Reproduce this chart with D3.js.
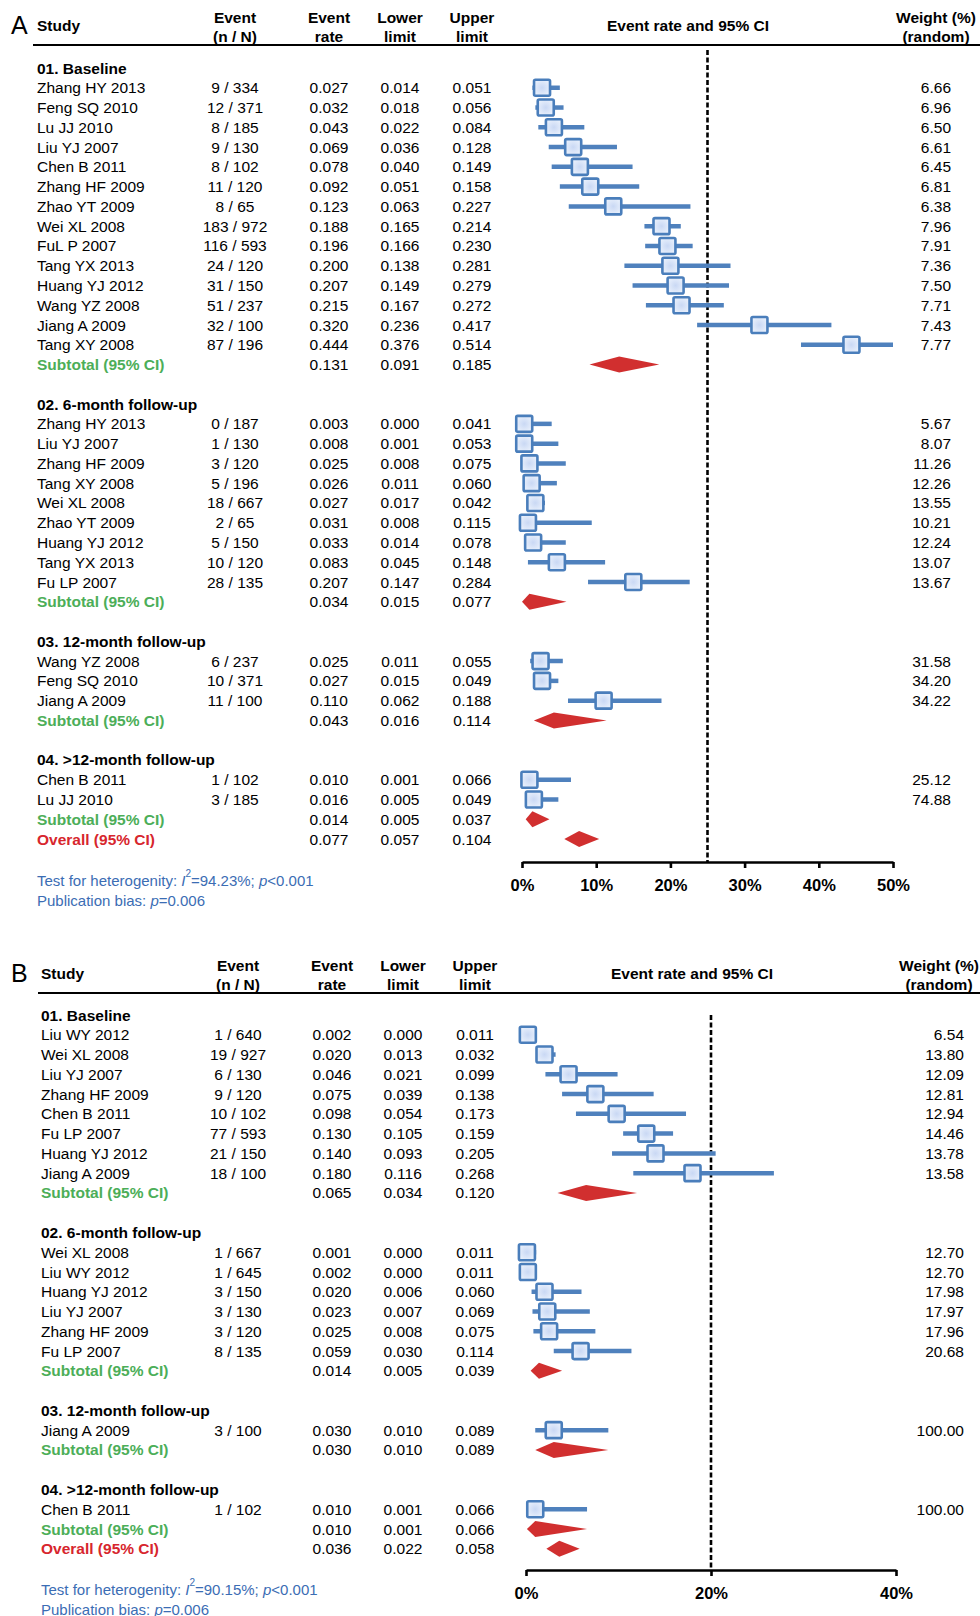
<!DOCTYPE html>
<html>
<head>
<meta charset="utf-8">
<script src="https://cdn.jsdelivr.net/npm/d3@7"></script>
<style>
  body { margin: 0; background: #fff; }
  svg { display: block; font-family: 'Liberation Sans', Arial, sans-serif; }
</style>
</head>
<body>
<svg id="chart"></svg>
<script>
// ---- data: [study, n / N, rate, lower, upper, weight] ----
const aBaseline = [
  ['Zhang HY 2013', '9 / 334', 0.027, 0.014, 0.051, '6.66'],
  ['Feng SQ 2010', '12 / 371', 0.032, 0.018, 0.056, '6.96'],
  ['Lu JJ 2010', '8 / 185', 0.043, 0.022, 0.084, '6.50'],
  ['Liu YJ 2007', '9 / 130', 0.069, 0.036, 0.128, '6.61'],
  ['Chen B 2011', '8 / 102', 0.078, 0.040, 0.149, '6.45'],
  ['Zhang HF 2009', '11 / 120', 0.092, 0.051, 0.158, '6.81'],
  ['Zhao YT 2009', '8 / 65', 0.123, 0.063, 0.227, '6.38'],
  ['Wei XL 2008', '183 / 972', 0.188, 0.165, 0.214, '7.96'],
  ['FuL P 2007', '116 / 593', 0.196, 0.166, 0.230, '7.91'],
  ['Tang YX 2013', '24 / 120', 0.200, 0.138, 0.281, '7.36'],
  ['Huang YJ 2012', '31 / 150', 0.207, 0.149, 0.279, '7.50'],
  ['Wang YZ 2008', '51 / 237', 0.215, 0.167, 0.272, '7.71'],
  ['Jiang A 2009', '32 / 100', 0.320, 0.236, 0.417, '7.43'],
  ['Tang XY 2008', '87 / 196', 0.444, 0.376, 0.514, '7.77']
]
const aBaselineSub = [0.131, 0.091, 0.185]
const a6month = [
  ['Zhang HY 2013', '0 / 187', 0.003, 0.000, 0.041, '5.67'],
  ['Liu YJ 2007', '1 / 130', 0.008, 0.001, 0.053, '8.07'],
  ['Zhang HF 2009', '3 / 120', 0.025, 0.008, 0.075, '11.26'],
  ['Tang XY 2008', '5 / 196', 0.026, 0.011, 0.060, '12.26'],
  ['Wei XL 2008', '18 / 667', 0.027, 0.017, 0.042, '13.55'],
  ['Zhao YT 2009', '2 / 65', 0.031, 0.008, 0.115, '10.21'],
  ['Huang YJ 2012', '5 / 150', 0.033, 0.014, 0.078, '12.24'],
  ['Tang YX 2013', '10 / 120', 0.083, 0.045, 0.148, '13.07'],
  ['Fu LP 2007', '28 / 135', 0.207, 0.147, 0.284, '13.67']
]
const a6monthSub = [0.034, 0.015, 0.077]
// in the source figure the 6-month marks sit where these values fall, not where the table says
const a6monthMarks = [
  [0.003, 0.000, 0.040],
  [0.003, 0.000, 0.049],
  [0.010, 0.003, 0.059],
  [0.013, 0.005, 0.047],
  [0.018, 0.012, 0.031],
  [0.008, 0.002, 0.094],
  [0.015, 0.006, 0.059],
  [0.047, 0.008, 0.112],
  [0.150, 0.089, 0.226]
]
const a6monthSubMarks = [0.010, 0.000, 0.060]
const a12month = [
  ['Wang YZ 2008', '6 / 237', 0.025, 0.011, 0.055, '31.58'],
  ['Feng SQ 2010', '10 / 371', 0.027, 0.015, 0.049, '34.20'],
  ['Jiang A 2009', '11 / 100', 0.110, 0.062, 0.188, '34.22']
]
const a12monthSub = [0.043, 0.016, 0.114]
const aOver12 = [
  ['Chen B 2011', '1 / 102', 0.010, 0.001, 0.066, '25.12'],
  ['Lu JJ 2010', '3 / 185', 0.016, 0.005, 0.049, '74.88']
]
const aOver12Sub = [0.014, 0.005, 0.037]
const aOverall = [0.077, 0.057, 0.104]
const aStats = ['94.23%', '<0.001', '0.006']
const ticksA = [0, 0.1, 0.2, 0.3, 0.4, 0.5]
const refA = 0.25

const bBaseline = [
  ['Liu WY 2012', '1 / 640', 0.002, 0.000, 0.011, '6.54'],
  ['Wei XL 2008', '19 / 927', 0.020, 0.013, 0.032, '13.80'],
  ['Liu YJ 2007', '6 / 130', 0.046, 0.021, 0.099, '12.09'],
  ['Zhang HF 2009', '9 / 120', 0.075, 0.039, 0.138, '12.81'],
  ['Chen B 2011', '10 / 102', 0.098, 0.054, 0.173, '12.94'],
  ['Fu LP 2007', '77 / 593', 0.130, 0.105, 0.159, '14.46'],
  ['Huang YJ 2012', '21 / 150', 0.140, 0.093, 0.205, '13.78'],
  ['Jiang A 2009', '18 / 100', 0.180, 0.116, 0.268, '13.58']
]
const bBaselineSub = [0.065, 0.034, 0.120]
const b6month = [
  ['Wei XL 2008', '1 / 667', 0.001, 0.000, 0.011, '12.70'],
  ['Liu WY 2012', '1 / 645', 0.002, 0.000, 0.011, '12.70'],
  ['Huang YJ 2012', '3 / 150', 0.020, 0.006, 0.060, '17.98'],
  ['Liu YJ 2007', '3 / 130', 0.023, 0.007, 0.069, '17.97'],
  ['Zhang HF 2009', '3 / 120', 0.025, 0.008, 0.075, '17.96'],
  ['Fu LP 2007', '8 / 135', 0.059, 0.030, 0.114, '20.68']
]
const b6monthSub = [0.014, 0.005, 0.039]
const b12month = [
  ['Jiang A 2009', '3 / 100', 0.030, 0.010, 0.089, '100.00']
]
const b12monthSub = [0.030, 0.010, 0.089]
const bOver12 = [
  ['Chen B 2011', '1 / 102', 0.010, 0.001, 0.066, '100.00']
]
const bOver12Sub = [0.010, 0.001, 0.066]
const bOverall = [0.036, 0.022, 0.058]
const bStats = ['90.15%', '<0.001', '0.006']
const ticksB = [0, 0.2, 0.4]
const refB = 0.2

const groupLabels = ['01. Baseline', '02. 6-month follow-up', '03. 12-month follow-up', '04. >12-month follow-up']

// ---- layout ----
const W = 980, H = 1616
const ROW = 19.77
const BLUE = '#4f81bd', RED = '#d12f2f', GREEN = '#4cae58', OVERALL_RED = '#d7262d', NOTE_BLUE = '#3b6db4'

const panels = [
  {
    letter: 'A', top: 0, rowY0: 68, axisY: 862, refTop: 50, lineX0: 33,
    textX: 37, cols: { ev: 235, rate: 329, lo: 400, up: 472, wt: 951, ci: 688, wtHead: 936 },
    x0: 522, x1: 893, ticks: ticksA, ref: refA, stats: aStats, noteY: 880,
    groups: [
      [aBaseline, aBaselineSub],
      [a6month, a6monthSub, a6monthMarks, a6monthSubMarks],
      [a12month, a12monthSub],
      [aOver12, aOver12Sub]
    ],
    overall: aOverall
  },
  {
    letter: 'B', top: 948, rowY0: 1015, axisY: 1570, refTop: 1015, lineX0: 38,
    textX: 41, cols: { ev: 238, rate: 332, lo: 403, up: 475, wt: 964, ci: 692, wtHead: 939 },
    x0: 526, x1: 896, ticks: ticksB, ref: refB, stats: bStats, noteY: 1589,
    groups: [[bBaseline, bBaselineSub], [b6month, b6monthSub], [b12month, b12monthSub], [bOver12, bOver12Sub]],
    overall: bOverall
  }
]

const svg = d3.select('#chart').attr('width', W).attr('height', H)

const defs = svg.append('defs')
const grad = defs.append('radialGradient').attr('id', 'sqFill')
grad.append('stop').attr('offset', '0%').attr('stop-color', '#c9d8f4')
grad.append('stop').attr('offset', '100%').attr('stop-color', '#e6eefb')

const fmt = d3.format('.3f')

panels.forEach(p => {
  const g = svg.append('g')

  // build rows (m = where the mark is drawn)
  const rows = []
  p.groups.forEach(([studies, sub, marks, subMarks], i) => {
    if (i > 0) rows.push({ type: 'blank' })
    rows.push({ type: 'group', label: groupLabels[i] })
    studies.forEach((s, j) => rows.push({
      type: 'study', name: s[0], nN: s[1], rate: s[2], lo: s[3], up: s[4], wt: s[5],
      m: marks ? marks[j] : [s[2], s[3], s[4]]
    }))
    rows.push({ type: 'sub', name: 'Subtotal (95% CI)', rate: sub[0], lo: sub[1], up: sub[2], m: subMarks || sub })
  })
  rows.push({ type: 'overall', name: 'Overall (95% CI)', rate: p.overall[0], lo: p.overall[1], up: p.overall[2], m: p.overall })

  const y = d3.scaleLinear().domain([0, 1]).range([p.rowY0, p.rowY0 + ROW])
  const x = d3.scaleLinear().domain([0, d3.max(p.ticks)]).range([p.x0, p.x1]).clamp(true)

  // HEADER
  const hy = p.top
  const head = g.append('g').attr('font-weight', 'bold').attr('font-size', 15.5).attr('fill', '#000')
  g.append('text').attr('x', 11).attr('y', hy + 25).attr('dominant-baseline', 'central')
    .attr('font-size', 25).text(p.letter)
  const h2 = (cx, a, b, anchor = 'middle') => {
    head.append('text').attr('x', cx).attr('y', hy + 17).attr('text-anchor', anchor).attr('dominant-baseline', 'central').text(a)
    head.append('text').attr('x', cx).attr('y', hy + 36).attr('text-anchor', anchor).attr('dominant-baseline', 'central').text(b)
  }
  head.append('text').attr('x', p.textX).attr('y', hy + 25).attr('dominant-baseline', 'central').text('Study')
  h2(p.cols.ev, 'Event', '(n / N)')
  h2(p.cols.rate, 'Event', 'rate')
  h2(p.cols.lo, 'Lower', 'limit')
  h2(p.cols.up, 'Upper', 'limit')
  head.append('text').attr('x', p.cols.ci).attr('y', hy + 25).attr('text-anchor', 'middle').attr('dominant-baseline', 'central').text('Event rate and 95% CI')
  h2(p.cols.wtHead, 'Weight (%)', '(random)')
  g.append('line').attr('x1', p.lineX0).attr('x2', W).attr('y1', hy + 45).attr('y2', hy + 45)
    .attr('stroke', '#000').attr('stroke-width', 2.2)

  // REFERENCE LINE
  g.append('line').attr('x1', x(p.ref)).attr('x2', x(p.ref)).attr('y1', p.refTop).attr('y2', p.axisY)
    .attr('stroke', '#000').attr('stroke-width', 2.6).attr('stroke-dasharray', '5,2.5')

  // TABLE TEXT
  const body = g.append('g').attr('font-size', 15.5)
  rows.forEach((r, i) => {
    const ry = y(i)
    const t = (tx, s, anchor, extra) => {
      const el = body.append('text').attr('x', tx).attr('y', ry).attr('text-anchor', anchor).attr('dominant-baseline', 'central').text(s)
      if (extra) extra(el)
    }
    if (r.type === 'group') {
      t(p.textX, r.label, 'start', el => el.attr('font-weight', 'bold'))
    } else if (r.type !== 'blank') {
      const color = r.type === 'sub' ? GREEN : r.type === 'overall' ? OVERALL_RED : '#000'
      t(p.textX, r.name, 'start', el => el.attr('fill', color).attr('font-weight', r.type === 'study' ? null : 'bold'))
      if (r.type === 'study') {
        t(p.cols.ev, r.nN, 'middle')
        t(p.cols.wt, r.wt, 'end')
      }
      t(p.cols.rate, fmt(r.rate), 'middle')
      t(p.cols.lo, fmt(r.lo), 'middle')
      t(p.cols.up, fmt(r.up), 'middle')
    }
  })

  // MARKS
  const marks = g.append('g')
  const studies = rows.map((r, i) => ({ ...r, i })).filter(r => r.type === 'study')
  const pools = rows.map((r, i) => ({ ...r, i })).filter(r => r.type === 'sub' || r.type === 'overall')

  marks.selectAll('.ci').data(studies).enter().append('line')
    .attr('class', 'ci')
    .attr('x1', d => x(d.m[1])).attr('x2', d => x(d.m[2]))
    .attr('y1', d => y(d.i)).attr('y2', d => y(d.i))
    .attr('stroke', BLUE).attr('stroke-width', 4.5)

  const sq = 16
  marks.selectAll('.sq').data(studies).enter().append('rect')
    .attr('class', 'sq')
    .attr('x', d => x(d.m[0]) - sq / 2).attr('y', d => y(d.i) - sq / 2)
    .attr('width', sq).attr('height', sq).attr('rx', 1.5)
    .attr('fill', 'url(#sqFill)').attr('stroke', '#4a7ebb').attr('stroke-width', 2.6)

  const dh = 8
  marks.selectAll('.dia').data(pools).enter().append('path')
    .attr('class', 'dia')
    .attr('d', d => {
      const cy = y(d.i)
      return `M${x(d.m[1])},${cy}L${x(d.m[0])},${cy - dh}L${x(d.m[2])},${cy}L${x(d.m[0])},${cy + dh}Z`
    })
    .attr('fill', RED)

  // AXIS
  const axis = d3.axisBottom(x).tickValues(p.ticks).tickFormat(d3.format('.0%'))
    .tickSize(6).tickSizeOuter(0).tickPadding(11)
  const ax = g.append('g').attr('transform', `translate(0,${p.axisY})`).call(axis)
  ax.select('.domain').attr('stroke', '#000').attr('stroke-width', 2.6)
  ax.selectAll('.tick line').attr('stroke', '#000').attr('stroke-width', 2.6)
  ax.selectAll('.tick text').attr('font-family', "'Liberation Sans', Arial, sans-serif")
    .attr('font-size', 16.5).attr('font-weight', 'bold').attr('fill', '#000')

  // NOTES
  const n1 = g.append('text').attr('x', p.textX).attr('y', p.noteY).attr('dominant-baseline', 'central')
    .attr('font-size', 15).attr('fill', NOTE_BLUE)
  n1.append('tspan').text('Test for heterogenity: ')
  n1.append('tspan').attr('font-style', 'italic').text('I')
  n1.append('tspan').attr('font-size', 10).attr('dy', -7).text('2')
  n1.append('tspan').attr('dy', 7).text('=' + p.stats[0] + '; ')
  n1.append('tspan').attr('font-style', 'italic').text('p')
  n1.append('tspan').text(p.stats[1])
  const n2 = g.append('text').attr('x', p.textX).attr('y', p.noteY + 20).attr('dominant-baseline', 'central')
    .attr('font-size', 15).attr('fill', NOTE_BLUE)
  n2.append('tspan').text('Publication bias: ')
  n2.append('tspan').attr('font-style', 'italic').text('p')
  n2.append('tspan').text('=' + p.stats[2])
})
</script>
</body>
</html>
